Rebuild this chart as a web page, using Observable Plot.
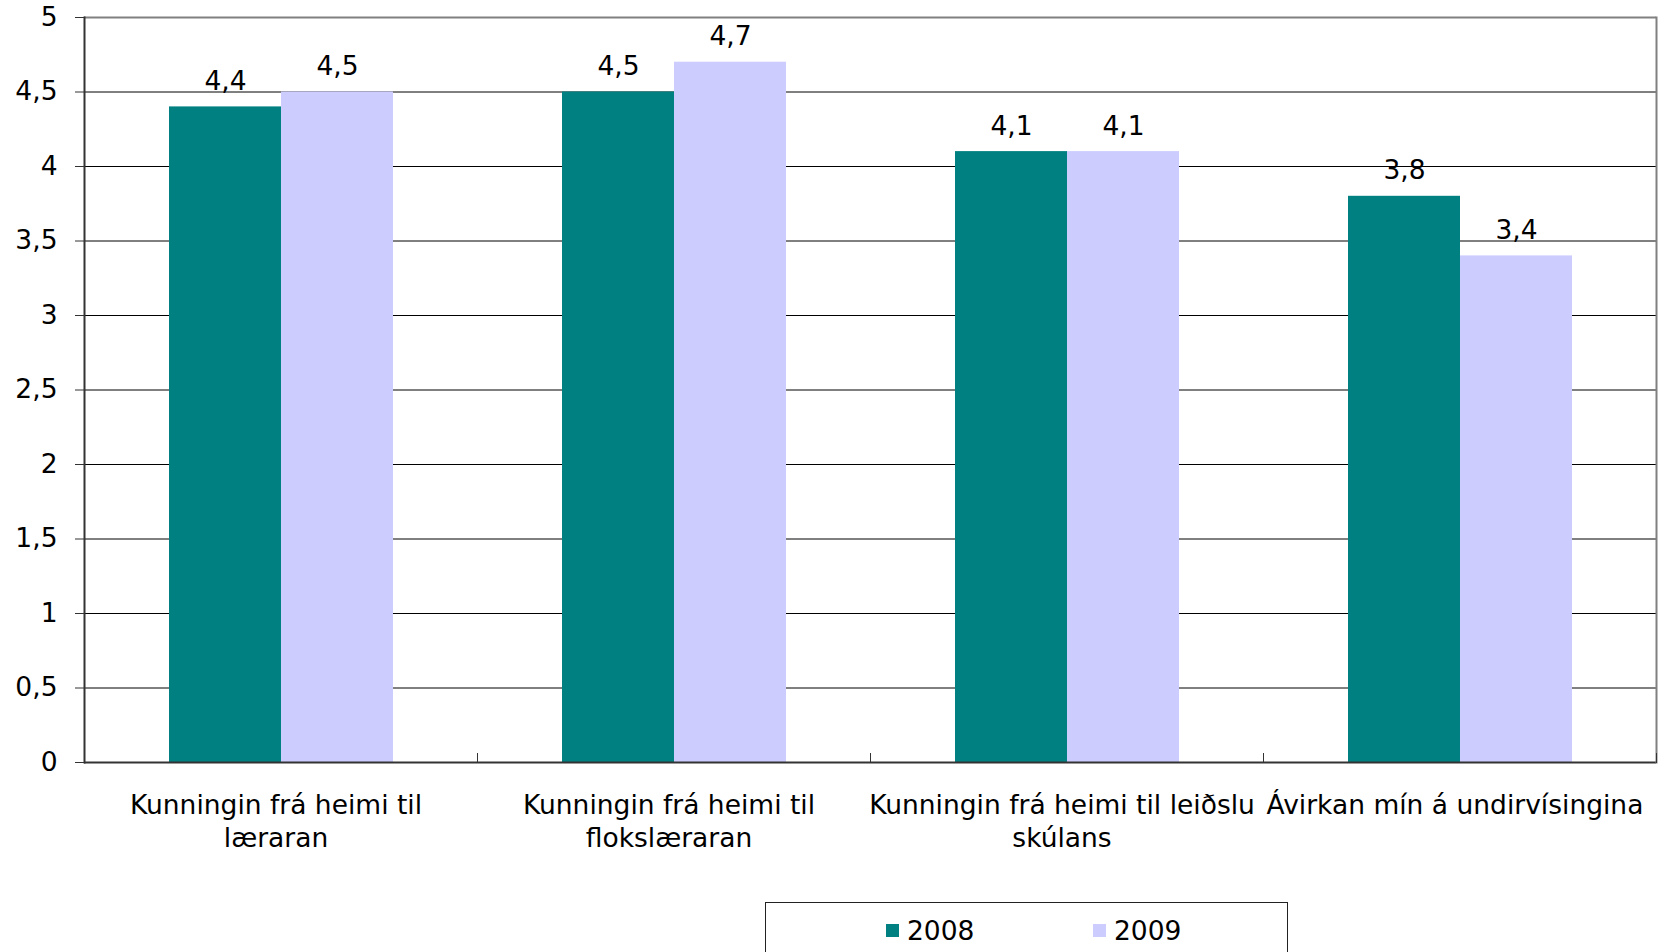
<!DOCTYPE html>
<html>
<head>
<meta charset="utf-8">
<script src="https://cdn.jsdelivr.net/npm/d3@7"></script>
<script src="https://cdn.jsdelivr.net/npm/@observablehq/plot@0.6"></script>
<style>
  html, body { margin: 0; padding: 0; background: #fff; }
  #chart svg { display: block; }
  .legend {
    position: relative; margin-left: 765px; width: 523px; height: 60px;
    border: 1px solid #222; box-sizing: border-box;
    font-family: "DejaVu Sans", Verdana, sans-serif; font-size: 26.5px; color: #000;
  }
  .legend .item { position: absolute; top: 12px; display: flex; align-items: center; }
  .legend .sw { width: 13px; height: 13px; margin-right: 8px; }
</style>
</head>
<body>
<div id="chart"></div>
<div class="legend" id="legend"></div>
<script>
const categories = [
  "Kunningin frá heimi til\nlæraran",
  "Kunningin frá heimi til\nflokslæraran",
  "Kunningin frá heimi til leiðslu\nskúlans",
  "Ávirkan mín á undirvísingina"
];
const years = ["2008", "2009"];
const values2008 = [4.4, 4.5, 4.1, 3.8];
const values2009 = [4.5, 4.7, 4.1, 3.4];
const yTicks = [0, 0.5, 1, 1.5, 2, 2.5, 3, 3.5, 4, 4.5, 5];
const gridTicks = [0.5, 1, 1.5, 2, 2.5, 3, 3.5, 4, 4.5];
const colors = ["#008080", "#CCCCFF"];

const fmt = d => String(d).replace(".", ",");

const data = [];
categories.forEach((c, i) => {
  data.push({category: c, year: years[0], value: values2008[i]});
  data.push({category: c, year: years[1], value: values2009[i]});
});

const W = 1666, H = 895, mTop = 17, mBottom = 133;
const plotH = H - mTop - mBottom;
const FS = 26.5;

const chart = Plot.plot({
  width: W,
  height: H,
  marginLeft: 82,
  marginRight: 9,
  marginTop: mTop,
  marginBottom: mBottom,
  style: {fontFamily: "'DejaVu Sans', Verdana, sans-serif", fontSize: FS + "px", color: "#000", background: "#fff"},
  fx: {domain: categories, padding: 0, label: null},
  x: {domain: years, paddingInner: 0, paddingOuter: 0.75, axis: null},
  y: {domain: [0, 5], label: null},
  color: {domain: years, range: colors},
  marks: [
    Plot.ruleY(gridTicks, {stroke: "#000", strokeWidth: 1}),
    Plot.barY(data, {fx: "category", x: "year", y: "value", fill: "year"}),
    Plot.text(data, {fx: "category", x: "year", y: "value", text: d => fmt(d.value), lineAnchor: "bottom", dy: -17, fontSize: FS, fill: "#000"}),
    Plot.ruleY([5], {stroke: "#808080", strokeWidth: 2}),
    Plot.ruleY([0], {stroke: "#333", strokeWidth: 2}),
    Plot.frame({anchor: "left", facetAnchor: "left", stroke: "#333", strokeWidth: 2}),
    Plot.frame({anchor: "right", facetAnchor: "right", stroke: "#808080", strokeWidth: 2}),
    Plot.frame({anchor: "right", insetTop: plotH - 9, stroke: "#333", strokeWidth: 1}),
    Plot.axisY({ticks: yTicks, tickSize: 9, tickPadding: 18, tickFormat: fmt, fontSize: FS, label: null, stroke: "#333"}),
    Plot.axisFx({anchor: "bottom", tickSize: 0, tickPadding: 28, dx: -5, fontSize: FS, lineHeight: 1.25, label: null})
  ]
});
document.getElementById("chart").appendChild(chart);

const legend = document.getElementById("legend");
const offs = [120, 327];
years.forEach((y, i) => {
  const it = document.createElement("div");
  it.className = "item";
  it.style.left = offs[i] + "px";
  const sw = document.createElement("span");
  sw.className = "sw";
  sw.style.background = colors[i];
  const t = document.createElement("span");
  t.textContent = y;
  it.appendChild(sw); it.appendChild(t);
  legend.appendChild(it);
});
legend.style.marginTop = "7px";
</script>
</body>
</html>
